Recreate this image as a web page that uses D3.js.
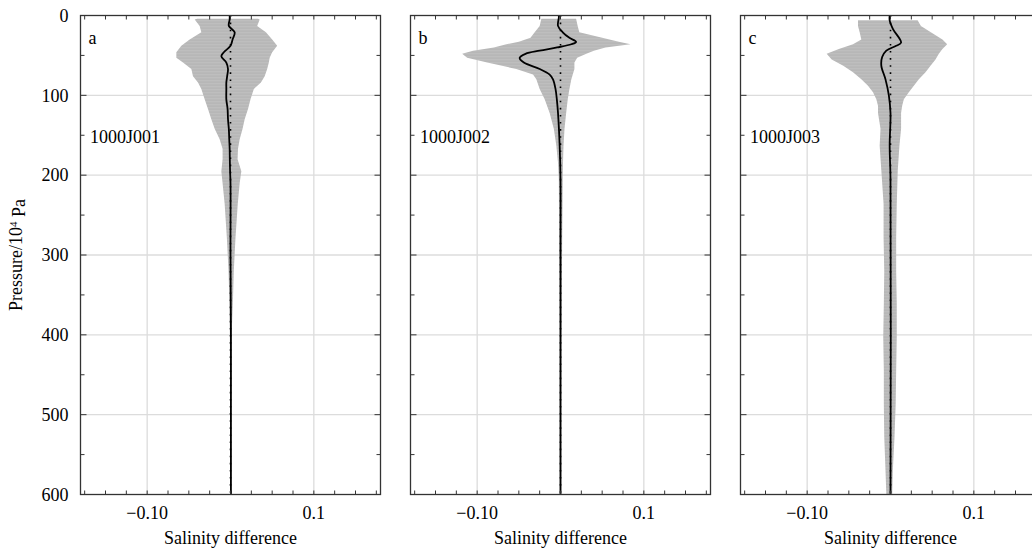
<!DOCTYPE html>
<html>
<head>
<meta charset="utf-8">
<script src="https://cdn.jsdelivr.net/npm/d3@7"></script>
<style>
  body { margin: 0; background: #fff; }
</style>
</head>
<body>
<svg id="chart" width="1032" height="552" font-family="'Liberation Serif', 'DejaVu Serif', serif"></svg>
<script>
// Pressure levels (10^4 Pa) and salinity-difference envelopes
var pressA = [4, 5, 13, 21, 30, 38, 46, 53, 59, 67, 76, 84, 92, 105, 117, 130, 142, 155, 167, 180, 195, 210, 236, 278, 319, 361, 403, 450, 500, 550, 600];
var loA = [-0.040, -0.043, -0.037, -0.035, -0.049, -0.059, -0.065, -0.065, -0.057, -0.047, -0.045, -0.039, -0.035, -0.031, -0.027, -0.023, -0.019, -0.013, -0.0095, -0.0095, -0.011, -0.0095, -0.007, -0.0044, -0.0024, -0.0012, -0.0008, -0.0006, -0.0005, -0.0005, -0.0005];
var hiA = [0.033, 0.035, 0.032, 0.0425, 0.050, 0.056, 0.050, 0.047, 0.046, 0.044, 0.041, 0.0365, 0.028, 0.024, 0.021, 0.017, 0.0145, 0.011, 0.009, 0.0085, 0.013, 0.011, 0.0087, 0.006, 0.004, 0.0028, 0.0012, 0.0009, 0.0008, 0.0008, 0.0008];
var meanPressA = [0, 5, 13, 21, 30, 38, 46, 51, 59, 67, 76, 84, 92, 105, 117, 130, 142, 155, 167, 180, 195, 210, 300, 400, 500, 600];
var meanA = [-0.001, -0.001, -0.002, 0.005, 0.0025, 0, -0.008, -0.011, -0.005, -0.003, -0.004, -0.005, -0.005, -0.005, -0.0035, -0.003, -0.002, -0.0015, -0.001, -0.0008, -0.0005, 0, 0, 0.0005, 0.0005, 0.0005];

var pressB = [4, 13, 21, 28, 33, 36, 40, 44, 48, 53, 59, 67, 74, 80, 92, 105, 122, 142, 163, 184, 205, 240, 280, 350, 450, 600];
var loB = [-0.023, -0.025, -0.031, -0.036, -0.050, -0.065, -0.080, -0.105, -0.118, -0.112, -0.088, -0.053, -0.033, -0.029, -0.025, -0.019, -0.013, -0.008, -0.005, -0.003, -0.002, -0.0018, -0.0015, -0.001, -0.001, -0.001];
var hiB = [0.0187, 0.0206, 0.0226, 0.050, 0.070, 0.084, 0.054, 0.040, 0.031, 0.020, 0.0167, 0.0167, 0.0147, 0.013, 0.0107, 0.0087, 0.0068, 0.0048, 0.0036, 0.003, 0.0027, 0.0024, 0.002, 0.0015, 0.0012, 0.001];
var meanPressB = [0, 3, 13, 21, 28, 33, 36, 40, 44, 48, 53, 59, 67, 74, 80, 92, 105, 122, 163, 205, 300, 600];
var meanB = [-0.002, -0.002, -0.003, 0.0027, 0.0107, 0.0187, 0.013, -0.004, -0.025, -0.042, -0.049, -0.044, -0.025, -0.013, -0.009, -0.006, -0.0044, -0.003, -0.001, 0, 0, 0];

var pressC = [6, 13, 21, 30, 36, 42, 48, 55, 63, 71, 80, 88, 96, 105, 113, 122, 142, 163, 194, 236, 278, 320, 361, 403, 445, 487, 528, 570, 600];
var loC = [-0.039, -0.039, -0.037, -0.035, -0.045, -0.062, -0.0766, -0.0706, -0.0567, -0.045, -0.035, -0.027, -0.021, -0.017, -0.015, -0.015, -0.012, -0.013, -0.011, -0.0083, -0.0083, -0.0075, -0.008, -0.0087, -0.008, -0.008, -0.0075, -0.006, -0.005];
var hiC = [0.0325, 0.0365, 0.0484, 0.0623, 0.068, 0.0623, 0.058, 0.054, 0.048, 0.042, 0.034, 0.028, 0.022, 0.016, 0.014, 0.0127, 0.0127, 0.0107, 0.0087, 0.0075, 0.0068, 0.0068, 0.0075, 0.0075, 0.0068, 0.0062, 0.0048, 0.0028, 0.002];
var meanPressC = [0, 6, 17, 34, 38, 44, 52, 63, 80, 100, 122, 163, 205, 600];
var meanC = [-0.001, -0.001, 0.003, 0.0127, 0.0068, -0.005, -0.010, -0.011, -0.006, -0.002, 0, -0.001, 0, 0];

var panelLetters = ['a', 'b', 'c'];
var stationNames = ['1000J001', '1000J002', '1000J003'];
var xTickValues = [-0.1, 0.1];
var xTickLabels = ['\u22120.10', '0.1'];
var yTickValues = [0, 100, 200, 300, 400, 500, 600];

var bands = [
    { press: pressA, lo: loA, hi: hiA, mp: meanPressA, mean: meanA },
    { press: pressB, lo: loB, hi: hiB, mp: meanPressB, mean: meanB },
    { press: pressC, lo: loC, hi: hiC, mp: meanPressC, mean: meanC }
];

var plotTop = 15.5, plotH = 479, plotW = 300;
var lefts = [80.5, 410.5, 740.5];

var svg = d3.select("#chart");

// striped grey fill for the envelope
var defs = svg.append("defs");
var pat = defs.append("pattern")
    .attr("id", "stripes")
    .attr("patternUnits", "userSpaceOnUse")
    .attr("width", 12).attr("height", 3);
pat.append("rect").attr("width", 12).attr("height", 3).attr("fill", "#b2b2b2");
pat.append("rect").attr("y", 1.6).attr("width", 12).attr("height", 0.9).attr("fill", "#cccccc");

var x = d3.scaleLinear().domain([-0.18, 0.18]).range([0, plotW]);
var y = d3.scaleLinear().domain([0, 600]).range([0, plotH]);

var minorX = d3.range(-7, 8).map(i => i * 0.025);
var minorY = d3.range(0, 13).map(i => i * 50);

bands.forEach(function(b, k) {
    var g = svg.append("g").attr("transform", "translate(" + lefts[k] + "," + plotTop + ")");

    // grid
    g.selectAll(".gx").data(xTickValues).enter().append("line")
        .attr("x1", d => x(d)).attr("x2", d => x(d))
        .attr("y1", 0).attr("y2", plotH)
        .style("stroke", "#dcdcdc").style("stroke-width", 1.3);
    g.selectAll(".gy").data(yTickValues.slice(1, -1)).enter().append("line")
        .attr("x1", 0).attr("x2", plotW)
        .attr("y1", d => y(d)).attr("y2", d => y(d))
        .style("stroke", "#dcdcdc").style("stroke-width", 1.3);

    // envelope
    var rows = b.press.map((p, i) => ({ p: p, lo: b.lo[i], hi: b.hi[i] }));
    var area = d3.area()
        .y(d => y(d.p))
        .x0(d => x(d.lo))
        .x1(d => x(d.hi));
    g.append("path").datum(rows)
        .attr("d", area)
        .attr("fill", "url(#stripes)");

    // zero line (dotted)
    g.append("line")
        .attr("x1", x(0)).attr("x2", x(0))
        .attr("y1", 0).attr("y2", plotH)
        .style("stroke", "#000").style("stroke-width", 1.6)
        .style("stroke-dasharray", "1.6,5.5");

    // mean profile
    var meanRows = b.mp.map((p, i) => ({ p: p, v: b.mean[i] }));
    var line = d3.line()
        .y(d => y(d.p))
        .x(d => x(d.v))
        .curve(d3.curveCatmullRom);
    g.append("path").datum(meanRows)
        .attr("d", line)
        .attr("fill", "none")
        .style("stroke", "#000").style("stroke-width", 1.8);

    // ticks on all four sides, pointing inward
    var tk = g.append("g").style("stroke", "#333").style("stroke-width", 1);
    minorX.forEach(function(v) {
        tk.append("line").attr("x1", x(v)).attr("x2", x(v)).attr("y1", 0).attr("y2", 4);
        tk.append("line").attr("x1", x(v)).attr("x2", x(v)).attr("y1", plotH).attr("y2", plotH - 4);
    });
    minorY.forEach(function(v) {
        var len = v % 100 === 0 ? 6 : 4;
        tk.append("line").attr("x1", 0).attr("x2", len).attr("y1", y(v)).attr("y2", y(v));
        tk.append("line").attr("x1", plotW).attr("x2", plotW - len).attr("y1", y(v)).attr("y2", y(v));
    });

    // frame
    g.append("rect")
        .attr("width", plotW).attr("height", plotH)
        .attr("fill", "none")
        .style("stroke", "#333").style("stroke-width", 1.3);

    // x tick labels
    g.selectAll(".xl").data(xTickValues).enter().append("text")
        .attr("x", d => x(d)).attr("y", plotH + 24)
        .attr("text-anchor", "middle")
        .style("font-size", "18px")
        .text((d, i) => xTickLabels[i]);

    g.append("text")
        .attr("x", x(0)).attr("y", plotH + 49)
        .attr("text-anchor", "middle")
        .style("font-size", "18px")
        .text("Salinity difference");

    g.append("text")
        .attr("x", 8).attr("y", 28.5)
        .style("font-size", "18px")
        .text(panelLetters[k]);

    g.append("text")
        .attr("x", 9.5).attr("y", 127.5)
        .style("font-size", "18px")
        .text(stationNames[k]);

    if (k === 0) {
        g.selectAll(".yl").data(yTickValues).enter().append("text")
            .attr("x", -12).attr("y", d => y(d))
            .attr("dy", "0.35em")
            .attr("text-anchor", "end")
            .style("font-size", "18px")
            .text(d => d);
    }
});

// y axis title
var yt = svg.append("text")
    .attr("transform", "translate(22," + (plotTop + plotH / 2) + ") rotate(-90)")
    .attr("text-anchor", "middle")
    .style("font-size", "18px");
yt.append("tspan").text("Pressure/10");
yt.append("tspan").attr("dy", "-0.45em").style("font-size", "11px").text("4");
yt.append("tspan").attr("dy", "0.45em").text(" Pa");
</script>
</body>
</html>
